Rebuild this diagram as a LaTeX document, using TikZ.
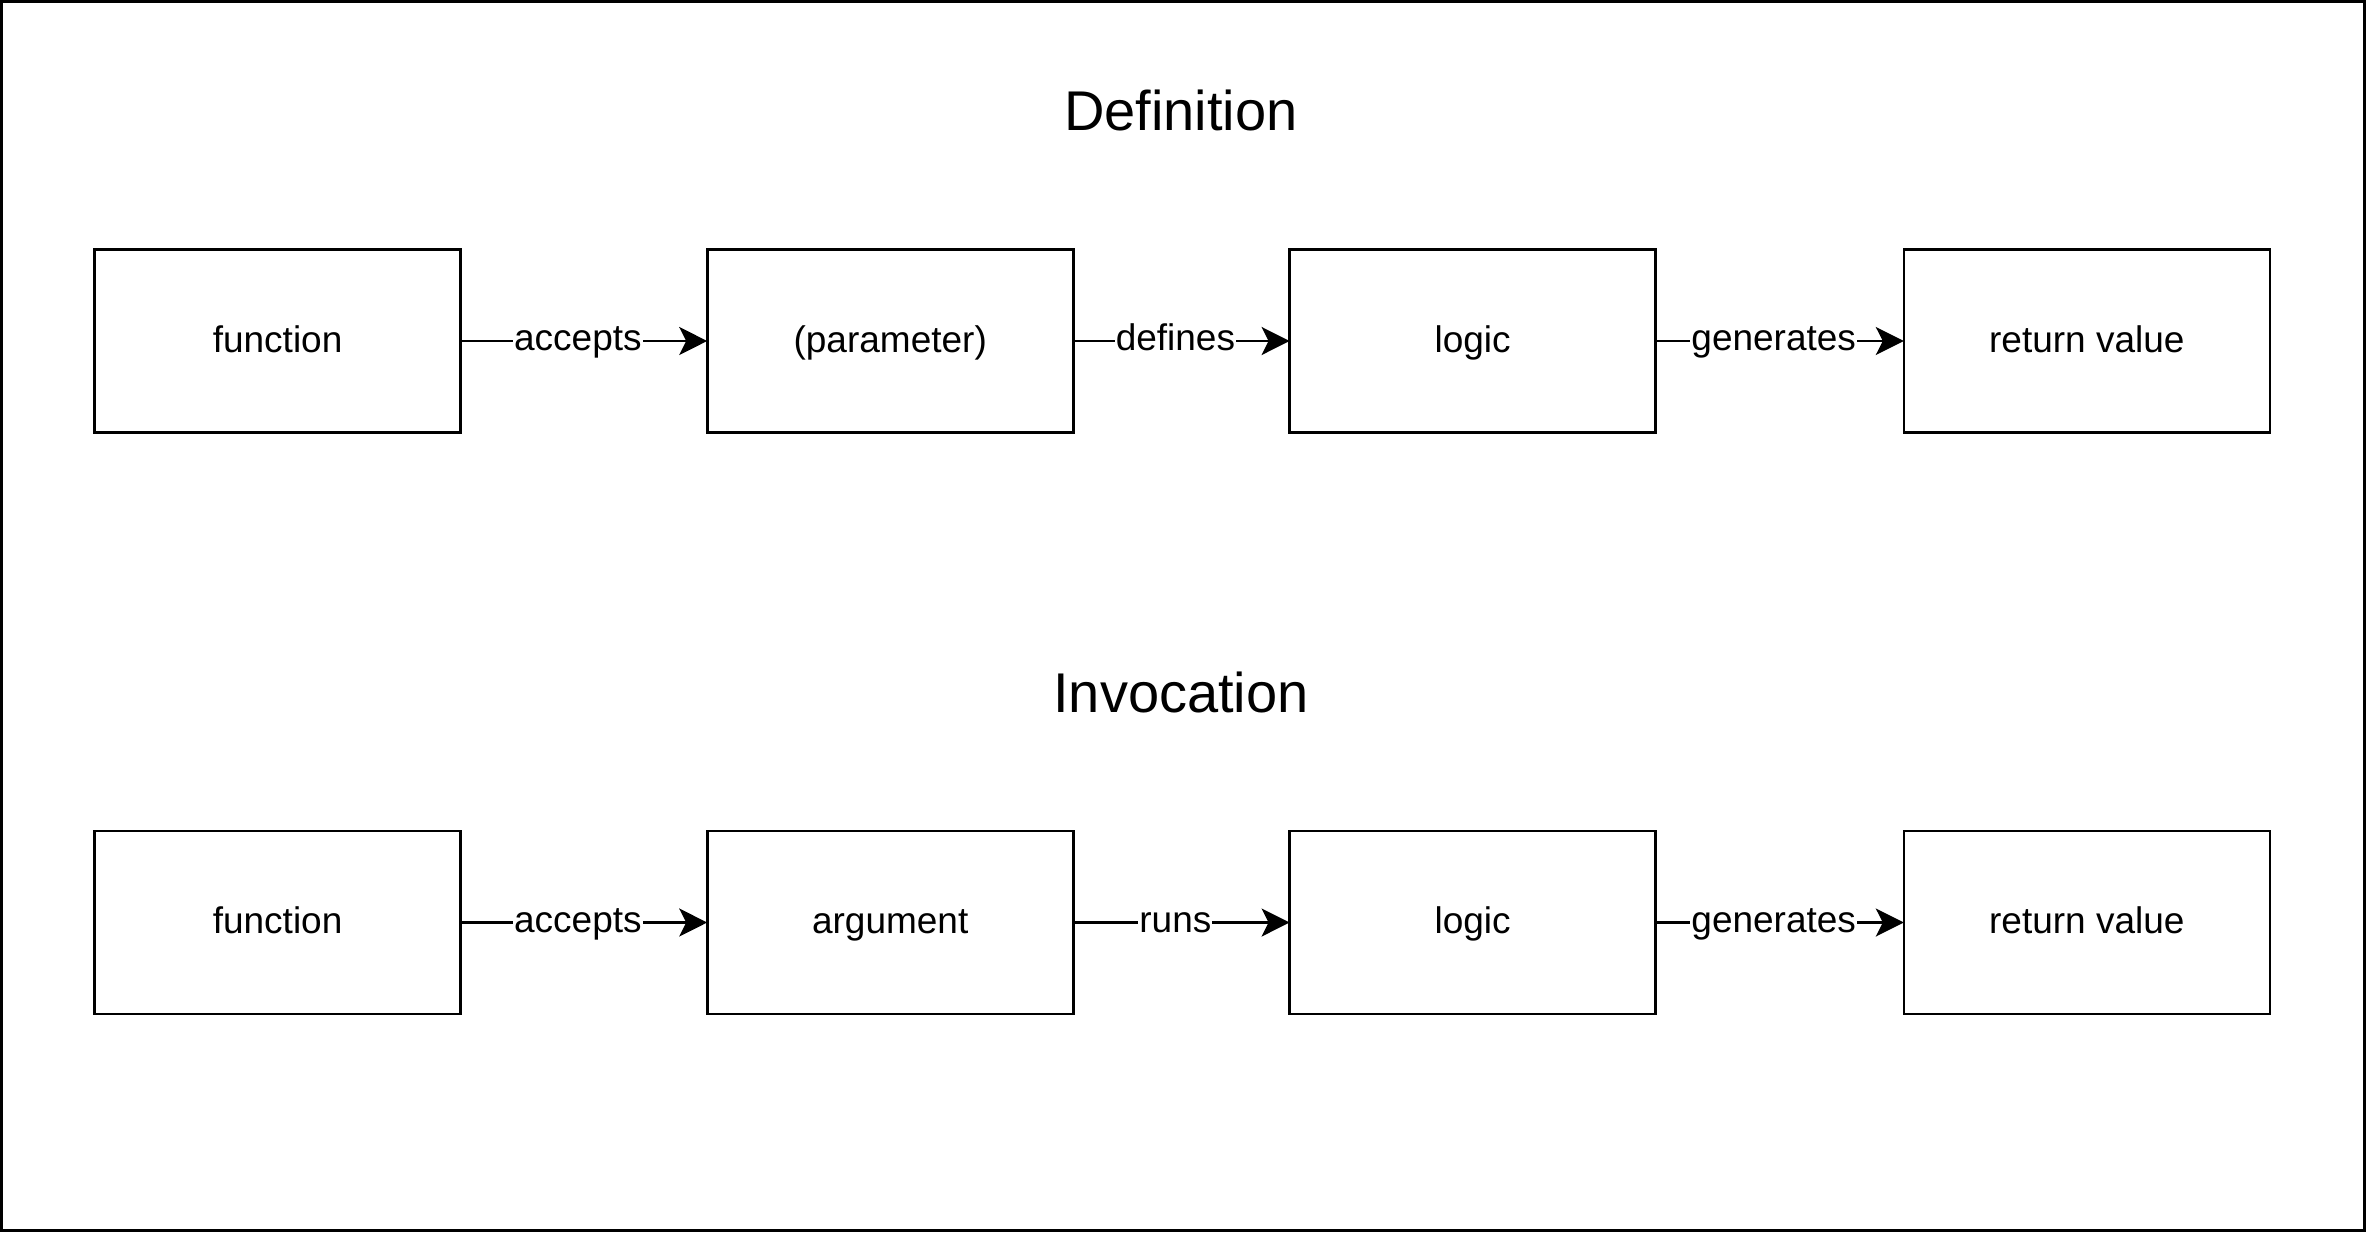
\documentclass[tikz,border=0pt]{standalone}
\usepackage{fontspec}
\setmainfont{Liberation Sans}
\usetikzlibrary{arrows.meta}
\begin{document}
\begin{tikzpicture}[x=0.5pt,y=-0.5pt,
  box/.style={draw=black, line width=1.3pt, minimum width=183pt, minimum height=91.5pt, inner sep=0pt, outer sep=0pt, text height=15pt, text depth=4pt, font=\fontsize{18.5}{22}\selectfont},
  title/.style={font=\fontsize{28}{34}\selectfont},
  conn/.style={line width=1.2pt, -{Stealth[length=14pt, width=14pt, inset=3.5pt]}},
  lbl/.style={fill=white, inner sep=0.5pt, xshift=-3pt, text height=13.5pt, text depth=4pt, font=\fontsize{18.5}{22}\selectfont}]
\useasboundingbox (0,0) rectangle (2366,1232);
\draw[line width=1.4pt] (1.5,1.5) rectangle (2364.5,1230.5);
\node[title] (t1) at (1181,110) {Definition};
\node[title] (t2) at (1181,692) {Invocation};
% row 1
\node[box] (a1) at (277.6,341) {function};
\node[box] (b1) at (890.2,341) {(parameter)};
\node[box] (c1) at (1472.6,341) {logic};
\node[box] (d1) at (2086.8,341) {return value};
% row 2
\node[box] (a2) at (277.6,922.5) {function};
\node[box] (b2) at (890.2,922.5) {argument};
\node[box] (c2) at (1472.6,922.5) {logic};
\node[box] (d2) at (2086.8,922.5) {return value};
\draw[conn] (a1) -- node[lbl]{accepts} (b1);
\draw[conn] (b1) -- node[lbl]{defines} (c1);
\draw[conn] (c1) -- node[lbl]{generates} (d1);
\draw[conn] (a2) -- node[lbl]{accepts} (b2);
\draw[conn] (b2) -- node[lbl]{runs} (c2);
\draw[conn] (c2) -- node[lbl]{generates} (d2);
\end{tikzpicture}
\end{document}
